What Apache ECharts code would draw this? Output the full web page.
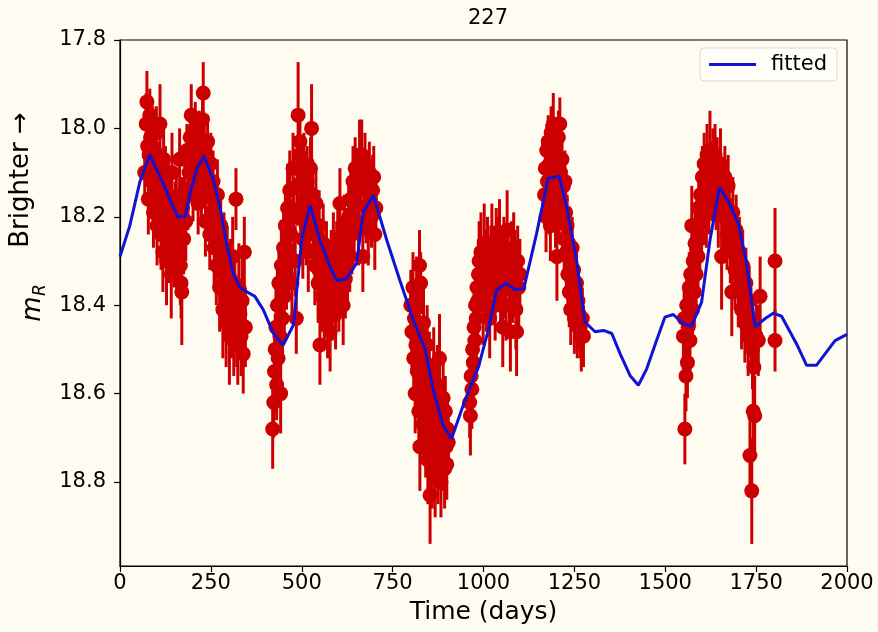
<!DOCTYPE html>
<html>
<head>
<meta charset="utf-8">
<script src="https://cdn.jsdelivr.net/npm/echarts@6/dist/echarts.min.js"></script>
<style>
html,body{margin:0;padding:0;background:#fefcf0;}
#chart{width:878px;height:632px;}
</style>
</head>
<body>
<div id="chart"></div>
<script>
// Observations: [time (days), m_R, error]
const season1 = [[68,18.10,0.06],[72,17.99,0.07],[74,17.94,0.07],[76,18.04,0.06],[78,18.16,0.08],[80,18.06,0.05],[82,17.97,0.06],[84,18.02,0.05],[86,18.12,0.07],[88,18.08,0.06],[90,18.00,0.05],[92,18.19,0.08],[95,18.05,0.06],[97,18.13,0.07],[100,18.01,0.06],[102,18.22,0.09],[105,18.09,0.06],[108,18.15,0.07],[110,17.99,0.09],[113,18.24,0.08],[115,18.12,0.07],[118,18.28,0.09],[120,18.07,0.08],[122,18.18,0.06],[125,18.11,0.07],[128,18.30,0.10],[130,18.21,0.07],[133,18.15,0.08],[136,18.26,0.09],[138,18.19,0.07],[141,18.33,0.10],[143,18.10,0.09],[146,18.24,0.08],[149,18.29,0.07],[152,18.20,0.08],[155,18.16,0.07],[158,18.27,0.09],[161,18.22,0.08],[164,18.07,0.07],[166,18.31,0.09],[168,18.35,0.08],[170,18.37,0.12],[172,18.18,0.07],[175,18.25,0.08],[178,18.14,0.07],[181,18.21,0.09],[184,18.05,0.06],[187,18.15,0.08],[190,18.10,0.07],[193,18.02,0.06],[196,17.97,0.07],[198,18.08,0.06],[201,18.14,0.07],[204,18.04,0.06],[207,18.00,0.06],[209,18.11,0.07],[212,18.06,0.05],[215,18.17,0.07],[218,18.02,0.06],[221,18.09,0.07],[224,18.13,0.08],[227,17.98,0.06],[229,17.92,0.07],[232,18.05,0.06],[235,18.21,0.08],[238,18.10,0.07],[241,18.03,0.06],[244,18.15,0.07],[247,18.24,0.08],[250,18.08,0.07],[253,18.19,0.08],[256,18.12,0.07],[259,18.27,0.09],[262,18.20,0.08],[265,18.31,0.09],[268,18.15,0.08],[271,18.25,0.09],[274,18.36,0.10],[277,18.22,0.08],[280,18.30,0.09],[283,18.41,0.11],[286,18.27,0.08],[289,18.35,0.09],[292,18.44,0.10],[295,18.31,0.09],[298,18.39,0.10],[301,18.47,0.11],[304,18.34,0.09],[307,18.42,0.10],[310,18.29,0.09],[313,18.46,0.10],[316,18.38,0.09],[319,18.16,0.07],[321,18.44,0.10],[324,18.49,0.09],[327,18.36,0.10],[330,18.42,0.08],[333,18.47,0.09],[336,18.39,0.10],[339,18.51,0.09],[342,18.28,0.08],[345,18.45,0.09]];
const season2 = [[420,18.68,0.09],[423,18.62,0.08],[425,18.55,0.09],[427,18.50,0.08],[429,18.45,0.09],[431,18.58,0.08],[433,18.40,0.09],[435,18.52,0.10],[437,18.35,0.08],[440,18.47,0.09],[442,18.60,0.09],[444,18.31,0.08],[447,18.43,0.09],[450,18.27,0.08],[452,18.38,0.09],[455,18.22,0.09],[458,18.33,0.08],[461,18.18,0.10],[464,18.29,0.08],[467,18.14,0.09],[470,18.24,0.08],[473,18.35,0.09],[476,18.09,0.08],[479,18.20,0.09],[482,18.30,0.08],[485,18.43,0.08],[488,18.13,0.09],[490,17.97,0.12],[493,18.06,0.08],[495,18.03,0.07],[497,18.18,0.09],[500,18.10,0.08],[503,18.25,0.09],[506,18.08,0.07],[509,18.16,0.08],[512,18.22,0.09],[515,18.12,0.08],[518,18.28,0.09],[521,18.19,0.08],[524,18.09,0.07],[527,18.00,0.10],[530,18.15,0.08],[533,18.24,0.09],[536,18.31,0.09],[539,18.17,0.08],[542,18.27,0.09],[545,18.35,0.09],[548,18.22,0.08],[550,18.49,0.09],[553,18.30,0.09],[556,18.38,0.08],[559,18.26,0.09],[562,18.41,0.08],[565,18.33,0.09],[568,18.29,0.08],[571,18.43,0.09],[574,18.36,0.08],[578,18.46,0.09],[581,18.31,0.08],[584,18.39,0.09],[587,18.27,0.08],[590,18.35,0.09],[593,18.42,0.08],[596,18.30,0.09],[599,18.25,0.08],[602,18.37,0.09],[605,18.17,0.08],[608,18.33,0.09],[611,18.28,0.08],[614,18.40,0.09],[617,18.23,0.08],[620,18.34,0.09],[623,18.26,0.08],[626,18.31,0.09],[629,18.20,0.08],[632,18.29,0.08],[635,18.16,0.08],[638,18.24,0.09],[641,18.12,0.08],[644,18.20,0.09],[647,18.09,0.07],[650,18.17,0.08],[653,18.13,0.08],[656,18.22,0.09],[659,18.06,0.08],[662,18.11,0.07],[665,18.06,0.08],[668,18.29,0.08],[671,18.14,0.08],[674,18.08,0.07],[677,18.18,0.08],[680,18.12,0.07],[683,18.23,0.08],[686,18.10,0.07],[689,18.16,0.08],[692,18.20,0.07],[695,18.14,0.08],[698,18.11,0.07],[701,18.24,0.08],[704,18.18,0.07]];
const season3 = [[800,18.40,0.08],[803,18.46,0.09],[806,18.36,0.08],[808,18.52,0.09],[810,18.43,0.08],[812,18.60,0.09],[814,18.49,0.08],[816,18.38,0.09],[818,18.55,0.08],[820,18.47,0.09],[822,18.64,0.09],[824,18.31,0.08],[825,18.72,0.10],[827,18.35,0.07],[829,18.58,0.09],[831,18.51,0.08],[833,18.67,0.09],[835,18.44,0.09],[837,18.61,0.08],[839,18.53,0.09],[841,18.70,0.09],[843,18.57,0.08],[845,18.49,0.09],[847,18.75,0.10],[849,18.63,0.09],[851,18.55,0.09],[853,18.83,0.11],[855,18.68,0.09],[857,18.60,0.08],[859,18.77,0.09],[861,18.66,0.09],[863,18.54,0.09],[865,18.72,0.08],[867,18.79,0.09],[869,18.62,0.09],[871,18.70,0.08],[873,18.58,0.09],[875,18.76,0.09],[877,18.65,0.08],[879,18.52,0.10],[881,18.71,0.09],[883,18.80,0.08],[885,18.67,0.09],[887,18.74,0.08],[889,18.61,0.09],[891,18.69,0.08],[893,18.77,0.09],[895,18.64,0.08],[897,18.72,0.09],[899,18.76,0.08],[901,18.68,0.08],[903,18.71,0.07]];
const season4 = [[962,18.62,0.08],[964,18.65,0.09],[966,18.56,0.08],[968,18.59,0.09],[970,18.50,0.08],[972,18.53,0.09],[974,18.45,0.08],[976,18.48,0.09],[978,18.40,0.08],[980,18.43,0.09],[982,18.36,0.08],[984,18.39,0.09],[986,18.33,0.08],[988,18.30,0.09],[990,18.36,0.08],[993,18.28,0.09],[996,18.33,0.08],[999,18.40,0.09],[1002,18.26,0.09],[1005,18.31,0.08],[1008,18.37,0.09],[1011,18.28,0.08],[1014,18.34,0.09],[1017,18.43,0.09],[1020,18.30,0.08],[1023,18.26,0.09],[1026,18.36,0.08],[1029,18.31,0.09],[1032,18.40,0.08],[1035,18.27,0.09],[1038,18.33,0.08],[1041,18.29,0.09],[1044,18.24,0.08],[1047,18.37,0.09],[1050,18.31,0.08],[1053,18.45,0.09],[1056,18.28,0.08],[1059,18.34,0.09],[1062,18.40,0.08],[1065,18.23,0.09],[1068,18.30,0.08],[1071,18.36,0.09],[1074,18.46,0.09],[1077,18.29,0.08],[1080,18.35,0.09],[1083,18.27,0.08],[1086,18.32,0.09],[1089,18.41,0.09],[1091,18.46,0.10],[1094,18.30,0.08],[1097,18.36,0.09],[1100,18.33,0.08]];
const season5 = [[1168,18.15,0.07],[1170,18.09,0.07],[1172,18.20,0.08],[1174,18.05,0.06],[1176,18.12,0.07],[1178,18.03,0.06],[1180,18.17,0.07],[1182,18.08,0.06],[1184,18.22,0.08],[1186,18.01,0.06],[1188,18.11,0.07],[1190,18.06,0.06],[1192,17.99,0.07],[1194,18.14,0.07],[1196,18.04,0.06],[1198,18.19,0.08],[1200,18.09,0.07],[1202,18.29,0.10],[1204,18.13,0.07],[1206,18.02,0.06],[1208,18.18,0.07],[1210,17.99,0.06],[1212,18.10,0.07],[1214,18.16,0.07],[1216,18.07,0.06],[1218,18.21,0.08],[1220,18.13,0.07],[1222,18.25,0.08],[1224,18.12,0.07],[1226,18.19,0.07],[1228,18.28,0.08],[1230,18.22,0.07],[1232,18.33,0.08],[1234,18.26,0.07],[1236,18.37,0.08],[1238,18.30,0.07],[1240,18.41,0.08],[1242,18.34,0.07],[1244,18.27,0.07],[1246,18.38,0.08],[1248,18.32,0.07],[1250,18.43,0.08],[1252,18.36,0.07],[1254,18.40,0.08],[1256,18.35,0.07],[1258,18.44,0.08],[1260,18.39,0.07],[1263,18.42,0.08],[1266,18.45,0.07],[1269,18.47,0.08],[1272,18.43,0.07],[1275,18.47,0.07]];
const season6 = [[1550,18.47,0.08],[1552,18.43,0.07],[1554,18.68,0.08],[1557,18.56,0.08],[1559,18.40,0.07],[1561,18.53,0.08],[1563,18.45,0.07],[1566,18.36,0.08],[1568,18.48,0.08],[1570,18.33,0.07],[1573,18.22,0.09],[1575,18.41,0.08],[1577,18.30,0.07],[1580,18.37,0.08],[1582,18.26,0.07],[1585,18.33,0.08],[1587,18.22,0.07],[1590,18.29,0.08],[1592,18.18,0.07],[1595,18.25,0.08],[1597,18.15,0.07],[1600,18.21,0.08],[1602,18.11,0.07],[1605,18.17,0.08],[1607,18.08,0.07],[1610,18.14,0.07],[1613,18.19,0.08],[1615,18.06,0.07],[1618,18.11,0.07],[1620,18.16,0.08],[1623,18.05,0.09],[1625,18.10,0.07],[1628,18.13,0.08],[1631,18.07,0.07],[1634,18.12,0.08],[1637,18.06,0.07],[1640,18.15,0.08],[1643,18.09,0.07],[1646,18.19,0.08],[1649,18.12,0.07],[1652,18.08,0.08],[1655,18.29,0.12],[1658,18.14,0.07],[1661,18.20,0.08],[1664,18.11,0.07],[1667,18.17,0.08],[1670,18.24,0.08],[1673,18.13,0.07],[1676,18.21,0.08],[1679,18.27,0.08],[1683,18.37,0.10],[1686,18.19,0.08],[1689,18.26,0.08],[1692,18.32,0.09],[1695,18.23,0.08],[1698,18.30,0.08],[1701,18.36,0.09],[1704,18.28,0.08],[1707,18.34,0.09],[1710,18.41,0.09],[1713,18.31,0.08],[1716,18.38,0.09],[1719,18.44,0.09],[1722,18.35,0.08],[1725,18.42,0.09],[1728,18.47,0.09],[1731,18.39,0.08],[1733,18.74,0.09],[1736,18.45,0.09],[1738,18.82,0.12],[1740,18.50,0.09],[1742,18.64,0.09],[1744,18.54,0.08],[1746,18.65,0.09],[1750,18.47,0.08],[1756,18.48,0.08],[1761,18.38,0.09],[1802,18.30,0.12],[1802,18.48,0.07]];

// Fitted model curve
const fitTime = [0,27,55,82,119,142,160,179,195,212,231,257,275,293,312,330,350,371,394,422,449,477,500,523,550,578,596,623,651,669,697,734,770,807,839,862,889,912,949,986,1013,1036,1062,1087,1111,1146,1178,1208,1229,1256,1279,1307,1330,1353,1376,1403,1426,1449,1476,1499,1522,1550,1572,1600,1623,1649,1674,1701,1724,1747,1775,1797,1820,1861,1889,1916,1967,2000];
const fitMag = [18.29,18.22,18.12,18.06,18.125,18.17,18.20,18.20,18.14,18.09,18.063,18.117,18.178,18.26,18.33,18.36,18.37,18.38,18.41,18.464,18.49,18.445,18.25,18.174,18.253,18.313,18.344,18.34,18.305,18.19,18.151,18.253,18.344,18.434,18.498,18.593,18.672,18.702,18.615,18.54,18.457,18.366,18.35,18.365,18.362,18.238,18.113,18.108,18.178,18.298,18.438,18.46,18.457,18.464,18.51,18.559,18.581,18.544,18.48,18.427,18.421,18.442,18.448,18.393,18.253,18.134,18.166,18.215,18.306,18.449,18.43,18.418,18.425,18.487,18.536,18.536,18.48,18.466];

const yTicks = [17.8, 18.0, 18.2, 18.4, 18.6, 18.8];
const xTicks = [0, 250, 500, 750, 1000, 1250, 1500, 1750, 2000];

const observations = [].concat(season1, season2, season3, season4, season5, season6);
const fitData = fitTime.map((t, i) => [t, fitMag[i]]);

const FONT = 'DejaVu Sans';
const RED = '#cc0000';
const BLUE = '#1212d4';

const chart = echarts.init(document.getElementById('chart'), null, {renderer: 'canvas'});
chart.setOption({
  backgroundColor: '#fefcf0',
  animation: false,
  title: {
    text: '227', left: 483, top: 3, textAlign: 'center',
    textStyle: {fontFamily: FONT, fontSize: 21, fontWeight: 'normal', color: '#000'}
  },
  legend: {
    right: 41, top: 48,
    data: [{name: 'fitted', icon: 'rect'}],
    itemWidth: 47, itemHeight: 3,
    padding: [6, 10, 6, 9],
    backgroundColor: 'rgba(255,255,255,0.55)',
    borderColor: '#d9d9d9', borderWidth: 1, borderRadius: 4,
    textStyle: {fontFamily: FONT, fontSize: 21, color: '#000', padding: [0, 0, 0, 10]}
  },
  grid: {
    left: 120, right: 31, top: 40, bottom: 66,
    show: true, borderColor: '#000', borderWidth: 1.2, backgroundColor: 'transparent'
  },
  xAxis: {
    type: 'value', min: 0, max: 2000, interval: 250,
    name: 'Time (days)', nameLocation: 'middle', nameGap: 34,
    nameTextStyle: {fontFamily: FONT, fontSize: 25, color: '#000'},
    axisLine: {show: true, lineStyle: {color: '#000', width: 1.2}},
    axisTick: {show: true, inside: false, length: 6, lineStyle: {color: '#000', width: 1.2}, customValues: xTicks},
    axisLabel: {fontFamily: FONT, fontSize: 21, color: '#000', margin: 7, customValues: xTicks,
      formatter: v => String(Math.round(v))},
    splitLine: {show: false}
  },
  yAxis: {
    type: 'value', inverse: true, min: 17.8, max: 18.99, interval: 0.2,
    axisLine: {show: true, lineStyle: {color: '#000', width: 1.2}},
    axisTick: {show: true, inside: false, length: 6, lineStyle: {color: '#000', width: 1.2}, customValues: yTicks},
    axisLabel: {fontFamily: FONT, fontSize: 21, color: '#000', margin: 14, customValues: yTicks,
      formatter: v => Number(v).toFixed(1)},
    splitLine: {show: false}
  },
  graphic: [
    {type: 'text', x: 21, y: 180, rotation: Math.PI / 2,
      style: {text: 'Brighter \u2192', fontFamily: FONT, fontSize: 26, fill: '#000', align: 'center', verticalAlign: 'middle'}},
    {type: 'text', x: 33, y: 309, rotation: Math.PI / 2,
      style: {text: 'm', fontFamily: FONT, fontStyle: 'italic', fontSize: 26, fill: '#000', align: 'center', verticalAlign: 'middle'}},
    {type: 'text', x: 41, y: 290, rotation: Math.PI / 2,
      style: {text: 'R', fontFamily: FONT, fontStyle: 'italic', fontSize: 17, fill: '#000', align: 'center', verticalAlign: 'middle'}}
  ],
  series: [
    {
      name: 'errors', type: 'custom', z: 2, silent: true,
      data: observations,
      encode: {x: 0, y: 1},
      renderItem: function (params, api) {
        const t = api.value(0), m = api.value(1), e = api.value(2);
        const p1 = api.coord([t, m - e]);
        const p2 = api.coord([t, m + e]);
        return {
          type: 'line',
          shape: {x1: p1[0], y1: p1[1], x2: p2[0], y2: p2[1]},
          style: {stroke: RED, lineWidth: 3}
        };
      }
    },
    {
      name: 'observed', type: 'scatter', z: 3, silent: true,
      data: observations.map(d => [d[0], d[1]]),
      symbol: 'circle', symbolSize: 15,
      itemStyle: {color: RED, opacity: 1}
    },
    {
      name: 'fitted', type: 'line', z: 4, silent: true,
      data: fitData, symbol: 'none', smooth: false,
      lineStyle: {color: BLUE, width: 3},
      itemStyle: {color: BLUE}
    }
  ]
});
</script>
</body>
</html>
